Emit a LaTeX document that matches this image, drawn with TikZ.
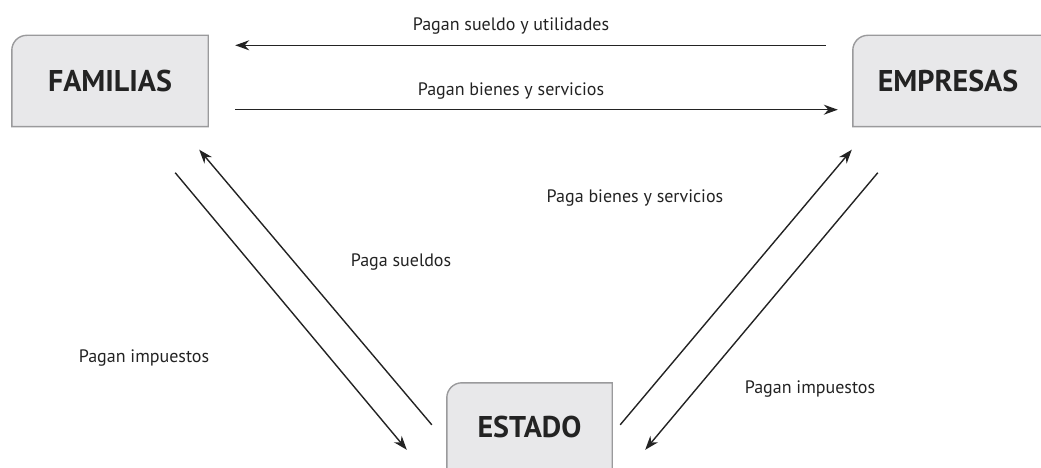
\documentclass[tikz,border=0pt]{standalone}
\usepackage{fontspec}
\setmainfont{PT Sans}
\usepackage{tikz}
\usetikzlibrary{arrows.meta}
\usetikzlibrary{calc,positioning,backgrounds}
\definecolor{boxfill}{HTML}{E8E8EA}
\definecolor{boxline}{HTML}{9A9A9C}
\definecolor{ink}{HTML}{232323}

\begin{document}
\begin{tikzpicture}[x=1pt,y=-1pt,
		sector/.style={font=\fontsize{30}{34}\selectfont\bfseries,text=ink,inner sep=0pt},
		flujo/.style={font=\fontsize{18}{21}\selectfont,text=ink,inner sep=0pt},
		pago/.style={draw=ink,line width=1.4pt,-{Stealth[length=14pt,width=10pt]}}
		]
			\useasboundingbox (0,0) rectangle (1041,468);

			\node[sector,minimum width=196pt,minimum height=91pt] (familias) at (110,81) {FAMILIAS};
			\node[sector,minimum width=190pt,minimum height=91pt] (empresas) at (948,81) {EMPRESAS};
			\node[sector,minimum width=165pt,minimum height=88pt] (estado) at (529.5,427) {ESTADO};

			\begin{scope}[on background layer]
				\foreach \n in {familias,empresas,estado}
					\filldraw[fill=boxfill,draw=boxline,line width=1.4pt] (\n.south west) -- ([yshift=-15pt]\n.north west) arc[start angle=180,end angle=90,radius=15pt] -- (\n.north east) -- (\n.south east) -- cycle;
			\end{scope}

			\node[flujo] (sueldoutil) at (511,26) {Pagan sueldo y utilidades};
			\node[flujo] (bienesfam) at (511,91) {Pagan bienes y servicios};
			\node[flujo] (bienesest) at (635,198) {Paga bienes y servicios};
			\node[flujo] (sueldos) at (401,262) {Paga sueldos};
			\node[flujo] (impfam) at (144,358) {Pagan impuestos};
			\node[flujo] (impemp) at (810,389) {Pagan impuestos};

			% flujos entre familias y empresas
			\path ($(empresas.north west)+(-27,10)$) edge[pago] ($(familias.north east)+(27,10)$)
				($(familias.south east)+(27,-17)$) edge[pago] ($(empresas.south west)+(-15,-17)$);
			% flujos con el estado
			\path ($(familias.south east)+(-33,46)$) edge[pago] ($(estado.north west)+(-40,67)$)
				($(estado.north west)+(-15,42)$) edge[pago] ($(familias.south east)+(-9,23)$)
				($(estado.north east)+(8,42)$) edge[pago] ($(empresas.south west)+(-1,23)$)
				($(empresas.south west)+(25,46)$) edge[pago] ($(estado.north east)+(33,67)$);
\end{tikzpicture}
\end{document}
